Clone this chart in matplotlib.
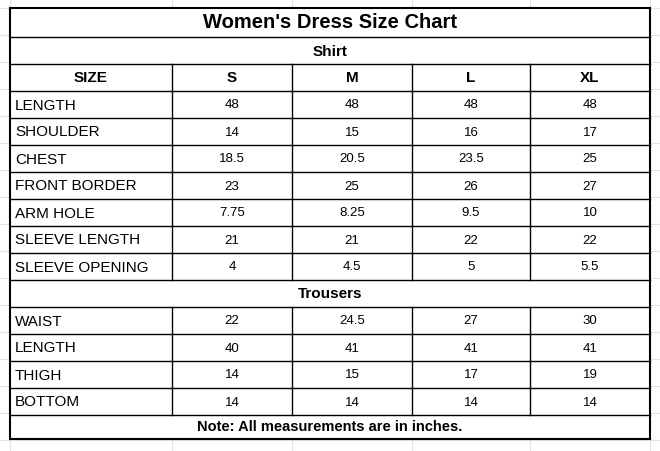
import matplotlib
matplotlib.use("Agg")
import matplotlib.pyplot as plt

plt.rcParams["font.family"] = ["Liberation Sans", "DejaVu Sans"]

sizes = ["S", "M", "L", "XL"]
shirt_rows = ["LENGTH", "SHOULDER", "CHEST", "FRONT BORDER", "ARM HOLE",
              "SLEEVE LENGTH", "SLEEVE OPENING"]
shirt_vals = [["48", "48", "48", "48"],
              ["14", "15", "16", "17"],
              ["18.5", "20.5", "23.5", "25"],
              ["23", "25", "26", "27"],
              ["7.75", "8.25", "9.5", "10"],
              ["21", "21", "22", "22"],
              ["4", "4.5", "5", "5.5"]]
trouser_rows = ["WAIST", "LENGTH", "THIGH", "BOTTOM"]
trouser_vals = [["22", "24.5", "27", "30"],
                ["40", "41", "41", "41"],
                ["14", "15", "17", "19"],
                ["14", "14", "14", "14"]]

W, H = 660, 451
fig = plt.figure(figsize=(W / 100, H / 100), dpi=100)
ax = fig.add_axes([0, 0, 1, 1])
ax.set_xlim(0, W)
ax.set_ylim(H, 0)
ax.axis("off")

# faint spreadsheet gridlines in the background
for gx in [10, 172, 292, 412, 530, 650]:
    ax.plot([gx, gx], [0, H], color="#e3e3e3", lw=0.8, zorder=0)
for gy in range(8, H, 27):
    ax.plot([0, W], [gy, gy], color="#e3e3e3", lw=0.8, zorder=0)

L, R = 10, 650
cols = [10, 172, 292, 412, 530, 650]
rh = 27
ax.add_patch(plt.Rectangle((L, 8), R - L, 432, facecolor="white",
                           edgecolor="none", zorder=1))

def hline(y, lw=1.0):
    ax.plot([L, R], [y, y], color="black", lw=lw, zorder=3)

def grid_row(y, label, vals, bold=False, label_center=False):
    hline(y + rh)
    for cx in cols[1:-1]:
        ax.plot([cx, cx], [y, y + rh], color="black", lw=1.0, zorder=3)
    w = "bold" if bold else "normal"
    if label_center:
        ax.text((cols[0] + cols[1]) / 2, y + rh / 2 + 1, label, ha="center",
                va="center", fontsize=11, fontweight=w, zorder=4)
    else:
        ax.text(L + 5, y + rh / 2 + 1, label, ha="left", va="center",
                fontsize=11, fontweight=w, zorder=4)
    fs = 11 if bold else 9.5
    for i, v in enumerate(vals):
        ax.text((cols[i + 1] + cols[i + 2]) / 2, y + rh / 2 + 1, v,
                ha="center", va="center", fontsize=fs, fontweight=w, zorder=4)

y = 8
ax.text(W / 2, y + 15, "Women's Dress Size Chart", ha="center", va="center",
        fontsize=14.5, fontweight="bold", zorder=4)
y = 37
hline(y)
ax.text(W / 2, y + rh / 2 + 1, "Shirt", ha="center", va="center",
        fontsize=11, fontweight="bold", zorder=4)
y += rh
hline(y)
grid_row(y, "SIZE", sizes, bold=True, label_center=True)
y += rh
for name, vals in zip(shirt_rows, shirt_vals):
    grid_row(y, name, vals)
    y += rh
ax.text(W / 2, y + rh / 2 + 1, "Trousers", ha="center", va="center",
        fontsize=11, fontweight="bold", zorder=4)
y += rh
hline(y)
for name, vals in zip(trouser_rows, trouser_vals):
    grid_row(y, name, vals)
    y += rh
ax.text(W / 2, y + 12, "Note: All measurements are in inches.", ha="center",
        va="center", fontsize=10.5, fontweight="bold", zorder=4)
bottom = y + 24
ax.add_patch(plt.Rectangle((L, 8), R - L, bottom - 8, facecolor="none",
                           edgecolor="black", lw=1.5, zorder=5))

fig.savefig("out.png", dpi=100)
